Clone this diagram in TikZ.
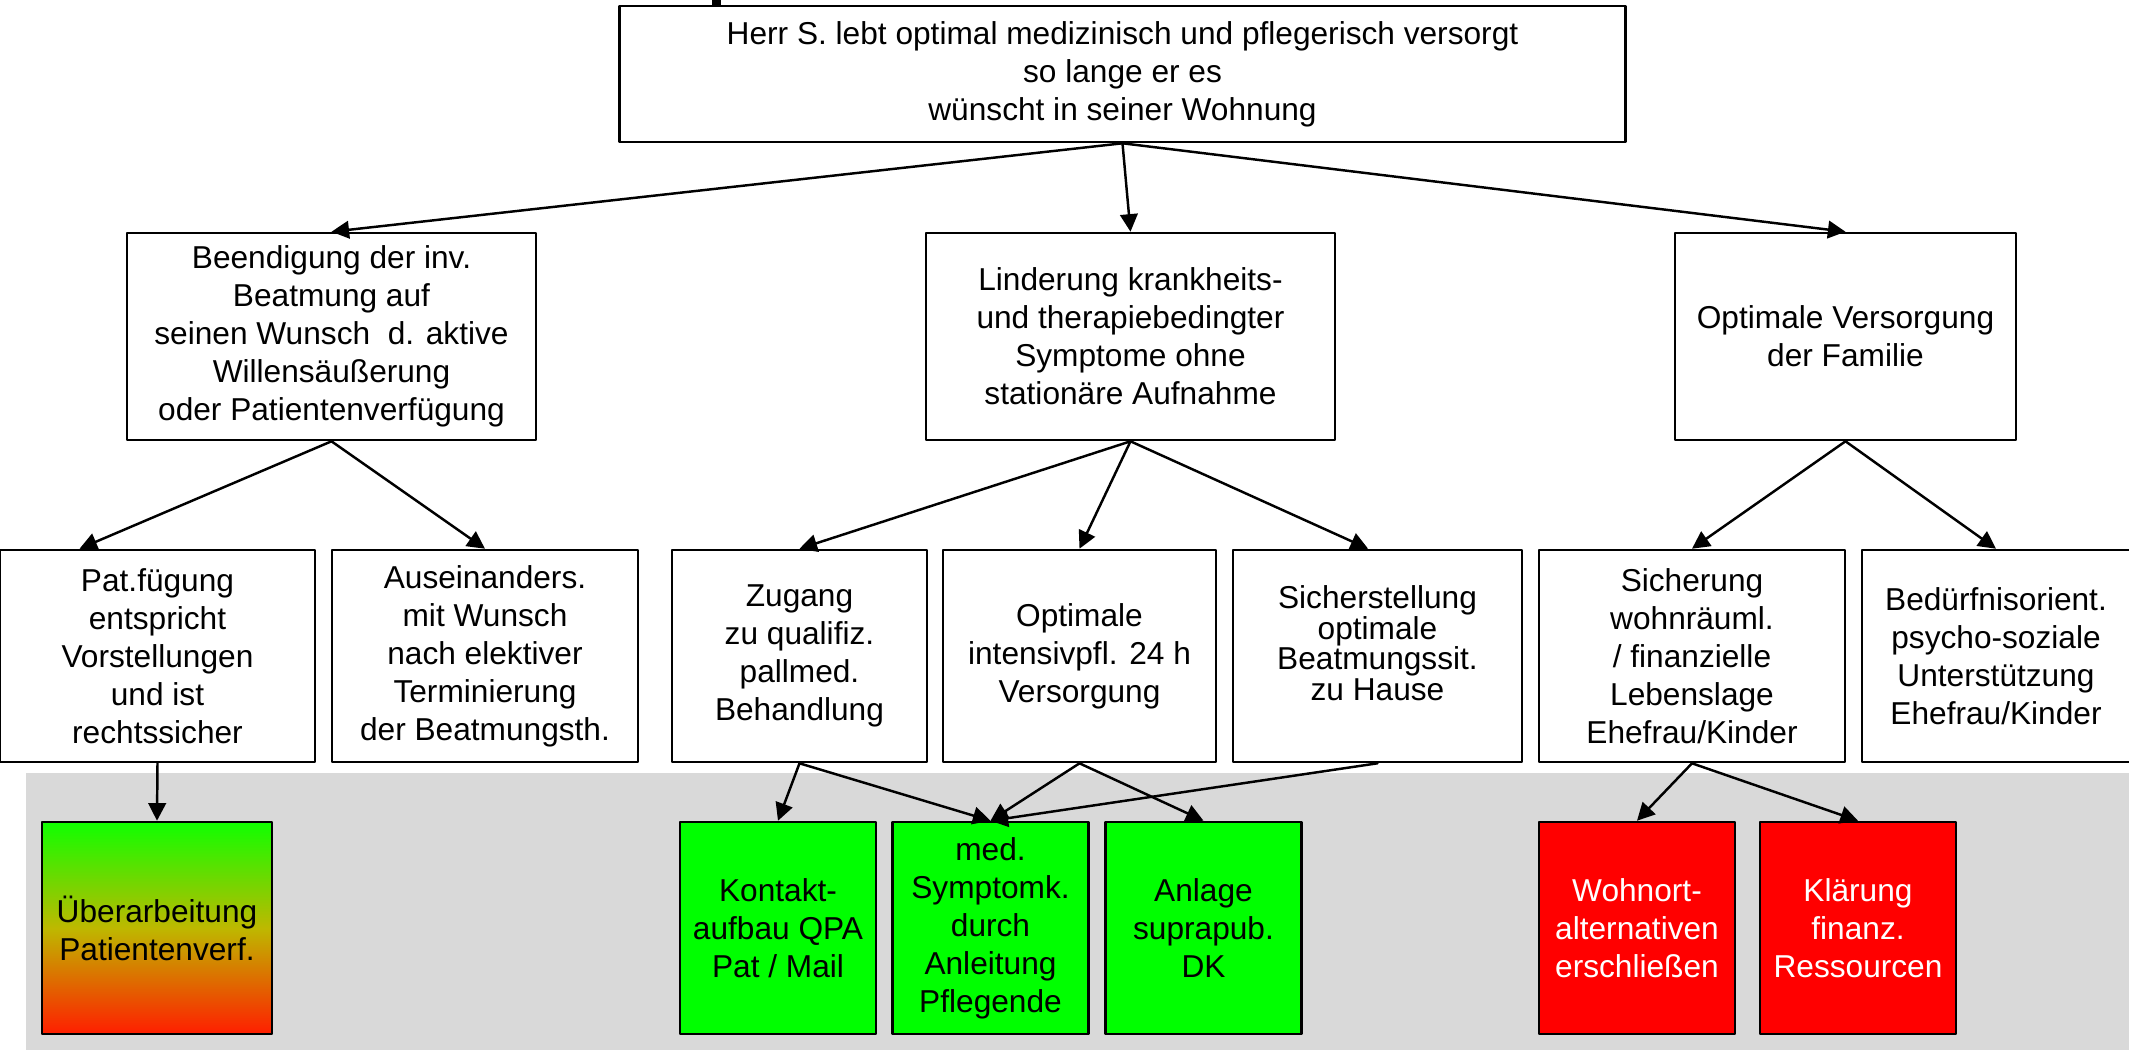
\documentclass[tikz,border=0pt]{standalone}
\usepackage{fontspec}
\setmainfont{Liberation Sans}
\usepackage{tikz}
\usetikzlibrary{arrows.meta}
\definecolor{bandgrau}{RGB}{217,217,217}
\definecolor{hellgruen}{RGB}{0,255,0}
\definecolor{hellrot}{RGB}{255,0,0}
\definecolor{verlaufoben}{RGB}{16,255,0}
\definecolor{verlaufmitte}{RGB}{190,184,0}
\definecolor{verlaufunten}{RGB}{255,30,0}
\pgfdeclareverticalshading{ampel}{100bp}{color(0bp)=(verlaufunten); color(25bp)=(verlaufunten); color(50bp)=(verlaufmitte); color(75bp)=(verlaufoben); color(100bp)=(verlaufoben)}
\tikzset{
  ziel/.style={draw=black, line width=0.7pt, fill=white, align=center, inner sep=0pt, font=\fontsize{9}{10.8}\selectfont},
  zwischenziel/.style={ziel, minimum height=2.12cm},
  massnahme/.style={ziel, minimum width=1.96cm, minimum height=2.12cm},
  gruenbox/.style={massnahme, fill=hellgruen},
  rotbox/.style={massnahme, fill=hellrot, text=white},
  pfeil/.style={-{Triangle[length=5pt,width=5pt]}, line width=0.7pt}
}
\begin{document}
\begin{tikzpicture}[line cap=round,line join=round,x=0.01cm,y=-0.01cm]
\useasboundingbox (0,0) rectangle (2129,1050);
\fill[bandgrau] (26,773) rectangle (2129,1050);
\fill[black] (712,0) rectangle (721,13);
\node[ziel, minimum width=10.05cm, minimum height=1.36cm] (wunsch) at (1122.5,74) {Herr S. lebt optimal medizinisch und pflegerisch versorgt\\ so lange er es\\ wünscht in seiner Wohnung};
\node[ziel, minimum width=4.09cm, minimum height=2.07cm] (beend) at (331.5,336.5) {Beendigung der inv.\\ Beatmung auf\\ seinen Wunsch~ d. aktive\\ Willensäußerung\\ oder Patientenverfügung};
\node[ziel, minimum width=4.09cm, minimum height=2.07cm] (linder) at (1130.5,336.5) {Linderung krankheits-\\ und therapiebedingter\\ Symptome ohne\\ stationäre Aufnahme};
\node[ziel, minimum width=3.41cm, minimum height=2.07cm] (familie) at (1845.5,336.5) {Optimale Versorgung\\ der Familie};
\node[zwischenziel, minimum width=3.15cm] (patv) at (157.5,656) {Pat.fügung\\ entspricht\\ Vorstellungen\\ und ist\\ rechtssicher};
\node[zwischenziel, minimum width=3.06cm] (ausein) at (485,656) {Auseinanders.\\ mit Wunsch\\ nach elektiver\\ Terminierung\\ der Beatmungsth.};
\node[zwischenziel, minimum width=2.55cm] (zugang) at (799.5,656) {Zugang\\ zu qualifiz.\\ pallmed.\\ Behandlung};
\node[zwischenziel, minimum width=2.73cm] (intens) at (1079.5,656) {Optimale\\ intensivpfl. 24 h\\ Versorgung};
\node[zwischenziel, minimum width=2.89cm] (beatm) at (1377.5,656) {};
\node[align=center, inner sep=0pt, font=\fontsize{9}{8.7}\selectfont] (beatmtext) at (1377.5,643) {Sicherstellung\\ optimale\\ Beatmungssit.\\ zu Hause};
\node[zwischenziel, minimum width=3.06cm] (wohn) at (1692,656) {Sicherung\\ wohnräuml.\\ / finanzielle\\ Lebenslage\\ Ehefrau/Kinder};
\node[zwischenziel, minimum width=2.68cm] (psycho) at (1996,656) {Bedürfnisorient.\\ psycho-soziale\\ Unterstützung\\ Ehefrau/Kinder};
\node[massnahme, minimum width=2.30cm, fill=none, shading=ampel] (ueber) at (157,928) {Überarbeitung\\ Patientenverf.};
\node[gruenbox] (kontakt) at (778,928) {Kontakt-\\ aufbau QPA\\ Pat / Mail};
\node[gruenbox] (symptom) at (990.5,928) {med.\\ Symptomk.\\ durch\\ Anleitung\\ Pflegende};
\node[gruenbox] (anlage) at (1203.5,928) {Anlage\\ suprapub.\\ DK};
\node[rotbox] (wohnort) at (1637,928) {Wohnort-\\ alternativen\\ erschließen};
\node[rotbox] (klaer) at (1858,928) {Klärung\\ finanz.\\ Ressourcen};
\draw[pfeil] (wunsch.south) -- (beend.north);
\draw[pfeil] (wunsch.south) -- (linder.north);
\draw[pfeil] (wunsch.south) -- (familie.north);
\draw[pfeil] (beend.south) -- (patv.126);
\draw[pfeil] (beend.south) -- (ausein.north);
\draw[pfeil] (linder.south) -- (zugang.north);
\draw[pfeil] (linder.south) -- (intens.north);
\draw[pfeil] (linder.south) -- (beatm.95);
\draw[pfeil] (familie.south) -- (wohn.north);
\draw[pfeil] (familie.south) -- (psycho.north);
\draw[pfeil] (patv.south) -- (ueber.north);
\draw[pfeil] (zugang.south) -- (kontakt.north);
\draw[pfeil] (zugang.south) -- (symptom.north);
\draw[pfeil] (intens.south) -- (symptom.north);
\draw[pfeil] (intens.south) -- (anlage.north);
\draw[pfeil] (beatm.south) -- (symptom.north);
\draw[pfeil] (wohn.south) -- (wohnort.north);
\draw[pfeil] (wohn.south) -- (klaer.north);
\end{tikzpicture}
\end{document}
